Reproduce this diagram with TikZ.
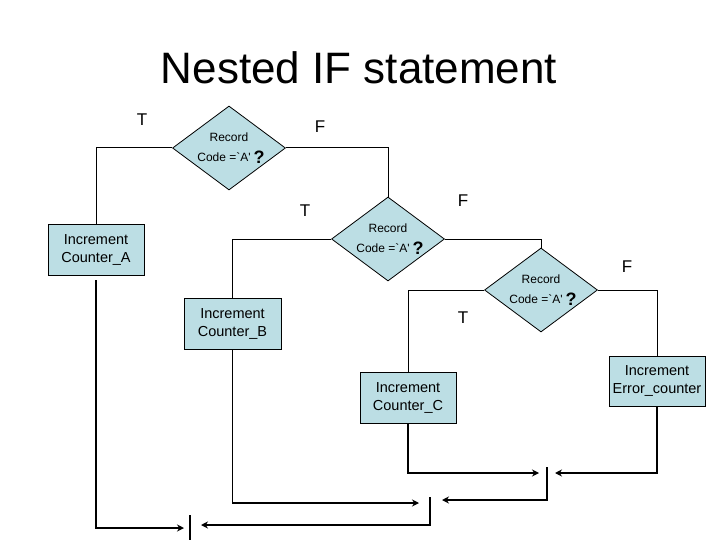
\documentclass[tikz,border=0pt]{standalone}
\usepackage{fontspec}
\setmainfont{Liberation Sans}
\usetikzlibrary{shapes.geometric,arrows.meta}
\definecolor{boxfill}{RGB}{188,222,228}
\begin{document}
\begin{tikzpicture}[x=1pt,y=-1pt,
  dec/.style={diamond,draw,fill=boxfill,minimum width=113pt,minimum height=84pt,inner sep=0pt,line width=0.8pt},
  act/.style={rectangle,draw,fill=boxfill,minimum width=96pt,minimum height=51pt,inner sep=0pt,align=center,font=\fontsize{14.5}{18}\selectfont,line width=0.8pt},
  rec/.style={inner sep=0pt,font=\fontsize{12}{14}\selectfont},
  qm/.style={inner sep=0pt,font=\fontsize{18}{20}\selectfont\bfseries},
  tf/.style={inner sep=0pt,font=\fontsize{17}{20}\selectfont},
  conn/.style={line width=1pt},
  flow/.style={line width=2pt,-{Stealth[length=7pt,width=7pt]}},
  bar/.style={line width=2pt}
]
\useasboundingbox (0,0) rectangle (720,540);
\node[anchor=base,inner sep=0pt,font=\fontsize{44}{48}\selectfont] (title) at (359,84) {Nested IF statement};

% decisions
\node[dec] (d1) at (229,148) {};
\node[dec] (d2) at (388,239) {};
\node[dec] (d3) at (541,290) {};
\foreach \d in {d1,d2,d3}{
  \node[rec] (\d r) at (\d) [yshift=10.5pt] {Record};
  \node[rec] (\d c) at (\d) [xshift=-5pt,yshift=-9pt] {Code =\textasciigrave{}A\textquotesingle};
  \node[qm] (\d q) at (\d) [xshift=30pt,yshift=-9pt] {?};
}

% actions
\node[act] (a) at (96,249.5) {Increment\\Counter\_A};
\node[act,minimum width=97pt] (b) at (232.5,323.5) {Increment\\Counter\_B};
\node[act] (c) at (408,397.5) {Increment\\Counter\_C};
\node[act,minimum height=50pt] (e) at (657,381) {Increment\\Error\_counter};

% labels
\node[tf] (t1) at (142,120) {T};
\node[tf] (f1) at (320,127) {F};
\node[tf] (t2) at (305,211) {T};
\node[tf] (f2) at (463,201) {F};
\node[tf] (t3) at (463,318) {T};
\node[tf] (f3) at (627,267) {F};

% upper connectors
\draw[conn] (d1.west) -| (a.north);
\draw[conn] (d1.east) -| (d2.north);
\draw[conn] (d2.west) -| (b.north);
\draw[conn] (d2.east) -| (d3.north);
\draw[conn] (d3.west) -| (c.north);
\draw[conn] (d3.east) -| (e.north);

% merge points
\coordinate (ta) at (184,528);
\coordinate (k1) at (190,515);
\coordinate (k2) at (190,540);
\coordinate (m2) at (430,497);
\coordinate (ta2) at (201,525);
\coordinate (tb) at (419,503);
\coordinate (m3) at (547,467);
\coordinate (tb2) at (442,500);
\coordinate (tc) at (539,473);
\coordinate (te) at (555,473);

% lower connectors
\draw[flow,shorten <=5pt] (a.south) |- (ta);
\draw[line width=1.2pt] (k1) -- (k2);
\draw[flow] (m2) |- (ta2);
\draw[flow,line width=1.3pt] (b.south) |- (tb);
\draw[flow] (m3) |- (tb2);
\draw[flow,line width=1.7pt] (c.south) |- (tc);
\draw[flow,line width=1.7pt] (e.south) |- (te);
\end{tikzpicture}
\end{document}
